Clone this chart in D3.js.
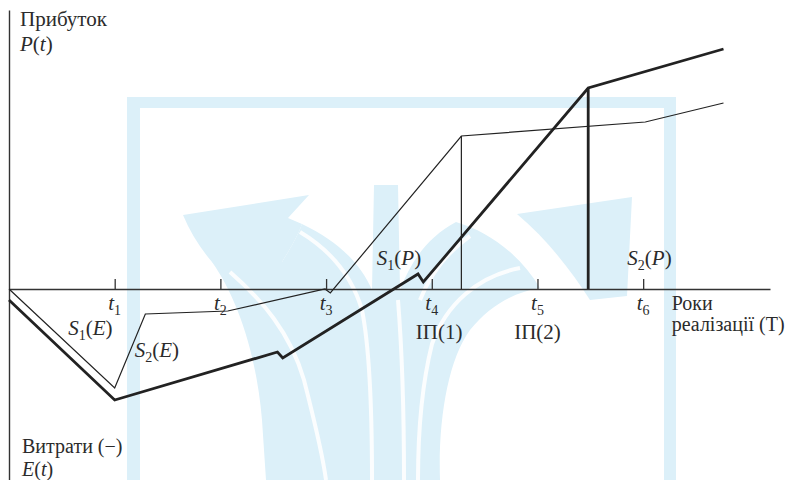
<!DOCTYPE html>
<html>
<head>
<meta charset="utf-8">
<script src="https://cdn.jsdelivr.net/npm/d3@7"></script>
<style>
  body { margin: 0; background: #fff; }
  text { font-family: "Liberation Serif", "DejaVu Serif", serif; fill: #2b2b2b; }
  .it { font-style: italic; }
</style>
</head>
<body>
<div id="chart"></div>
<script>

// Years on the horizontal axis (t1..t6)
const tickYears = [1, 2, 3, 4, 5, 6];
const tickSubs = ["1", "2", "3", "4", "5", "6"];

// Thin curve: first project
const thinT = [0, 1.0, 1.29, 2.07, 2.99, 3.04, 4.28, 6.02, 6.76];
const thinV = [0, -9.9, -2.5, -2.2, 0, -0.4, 15.3, 16.7, 18.6];

// Thick curve: second project
const thickT = [0, 1.0, 2.54, 2.59, 3.87, 3.92, 5.48, 6.76];
const thickV = [-1.1, -11.1, -6.3, -6.9, 1.5, 0.7, 20.1, 24.0];

// Payback points (drop lines to the axis)
const paybackT = [4.28, 5.48];
const paybackV = [15.3, 20.1];

// Texts
const curveNames = ["S", "S", "S", "S"];
const curveSubs = ["1", "2", "1", "2"];
const curveArgs = ["E", "E", "P", "P"];
const paybackLabels = ["ІП(1)", "ІП(2)"];
const axisTitleTop = ["Прибуток", "P(t)"];
const axisTitleBottom = ["Витрати (−)", "E(t)"];
const axisTitleRight = ["Роки", "реалізації (Т)"];


class ProfitChart {

  constructor(parentElement) {
    this.parentElement = parentElement;
    this.initVis();
  }

  initVis() {
    let vis = this;

    vis.margin = { top: 10, right: 33, bottom: 0, left: 9 };
    vis.width = 803 - vis.margin.left - vis.margin.right;
    vis.height = 480 - vis.margin.top - vis.margin.bottom;

    vis.root = d3.select("#" + vis.parentElement)
      .append("svg")
      .attr("width", 803)
      .attr("height", 480);

    vis.drawWatermark();

    vis.svg = vis.root.append("g")
      .attr("transform", "translate(" + vis.margin.left + "," + vis.margin.top + ")");

    vis.x = d3.scaleLinear()
      .domain([0, 7.2])
      .range([0, vis.width]);

    vis.y = d3.scaleLinear()
      .domain([-19.1, 27.9])
      .range([vis.height, 0]);

    vis.xAxis = d3.axisBottom(vis.x)
      .tickValues(tickYears)
      .tickSize(-10)
      .tickSizeOuter(0)
      .tickFormat("");

    vis.yAxis = d3.axisLeft(vis.y)
      .tickValues([])
      .tickSizeOuter(0);

    vis.updateVis();
  }

  // faint publisher logo behind the chart
  drawWatermark() {
    let vis = this;
    let blue = "#dcf0f9";
    let wm = vis.root.append("g").attr("stroke", "none");

    // frame
    wm.append("path")
      .attr("fill", blue)
      .attr("fill-rule", "evenodd")
      .attr("d", "M127,97 H676 V480 H127 Z M140,108 V480 H664 V108 Z");

    // left wing
    wm.append("path")
      .attr("fill", blue)
      .attr("d", "M183,215 L309,195 L288,218 L302,224 C296,240 288,252 282,262 " +
        "L262,270 C240,272 222,268 212,262 C200,248 190,232 183,215 Z");

    // right wing
    wm.append("path")
      .attr("fill", blue)
      .attr("d", "M517,214 L632,197 L627,296 L590,300 C572,272 548,240 517,214 Z");

    // body of the tulip
    wm.append("path")
      .attr("fill", blue)
      .attr("d", "M212,262 C236,296 256,350 262,420 L266,480 L440,480 C438,420 448,360 470,330 " +
        "C490,305 515,292 540,288 C520,255 490,232 456,222 C430,236 412,258 400,290 L398,185 " +
        "L374,185 L372,290 C360,262 336,240 302,224 C296,240 288,252 282,262 Z");

    // white grooves inside the body
    let grooves = [
      "M230,272 C262,300 290,332 304,380 C314,420 322,450 326,480",
      "M300,232 C330,250 352,276 362,310 C370,350 372,420 372,480",
      "M398,300 C402,350 404,420 404,480",
      "M520,268 C478,276 446,304 432,344 C422,384 418,430 418,480",
      "M470,236 C450,250 432,270 420,300"
    ];
    wm.selectAll(".groove")
      .data(grooves)
      .enter()
      .append("path")
      .attr("class", "groove")
      .attr("fill", "none")
      .attr("stroke", "#fbfdfe")
      .attr("stroke-width", 4)
      .attr("d", d => d);
  }

  updateVis() {
    let vis = this;

    // axes
    vis.svg.append("g")
      .attr("class", "x-axis")
      .attr("transform", "translate(0," + vis.y(0) + ")")
      .call(vis.xAxis)
      .call(g => g.selectAll("path, line").attr("stroke", "#333").attr("stroke-width", 1.3));

    vis.svg.append("g")
      .attr("class", "y-axis")
      .call(vis.yAxis)
      .call(g => g.selectAll("path").attr("stroke", "#333").attr("stroke-width", 1.4));

    // tick labels t1..t6
    let tl = vis.svg.selectAll(".tick-label")
      .data(tickYears)
      .enter()
      .append("text")
      .attr("class", "tick-label")
      .attr("x", d => vis.x(d))
      .attr("y", vis.y(0) + 21)
      .attr("text-anchor", "middle")
      .style("font-size", "21px");
    tl.append("tspan").attr("class", "it").text("t");
    tl.append("tspan").attr("dy", 5).style("font-size", "14px").text((d, i) => tickSubs[i]);

    // curves
    let line = d3.line()
      .x(d => vis.x(d[0]))
      .y(d => vis.y(d[1]));

    vis.svg.append("path")
      .datum(thinT.map((t, i) => [t, thinV[i]]))
      .attr("fill", "none")
      .attr("stroke", "#222")
      .attr("stroke-width", 1.2)
      .attr("d", line);

    vis.svg.append("path")
      .datum(thickT.map((t, i) => [t, thickV[i]]))
      .attr("fill", "none")
      .attr("stroke", "#222")
      .attr("stroke-width", 2.8)
      .attr("d", line);

    // drop lines at the payback points
    vis.svg.selectAll(".drop")
      .data(paybackT)
      .enter()
      .append("line")
      .attr("class", "drop")
      .attr("x1", d => vis.x(d))
      .attr("x2", d => vis.x(d))
      .attr("y1", (d, i) => vis.y(paybackV[i]))
      .attr("y2", vis.y(0))
      .attr("stroke", "#222")
      .attr("stroke-width", (d, i) => i === 0 ? 1.2 : 2.8);

    // curve labels S1(E), S2(E), S1(P), S2(P)
    let curvePos = [[0.56, -4.6], [1.19, -6.8], [3.48, 2.4], [5.85, 2.4]];
    curveNames.forEach((n, i) => {
      let t = vis.svg.append("text")
        .attr("x", vis.x(curvePos[i][0]))
        .attr("y", vis.y(curvePos[i][1]))
        .style("font-size", "21px");
      t.append("tspan").attr("class", "it").text(n);
      t.append("tspan").attr("dy", 5).style("font-size", "14px").text(curveSubs[i]);
      t.append("tspan").attr("dy", -5).text("(");
      t.append("tspan").attr("class", "it").text(curveArgs[i]);
      t.append("tspan").text(")");
    });

    // payback labels
    let payPos = [[4.07, -5.0], [5.0, -5.0]];
    vis.svg.selectAll(".pay-label")
      .data(paybackLabels)
      .enter()
      .append("text")
      .attr("class", "pay-label")
      .attr("x", (d, i) => vis.x(payPos[i][0]))
      .attr("y", (d, i) => vis.y(payPos[i][1]))
      .attr("text-anchor", "middle")
      .style("font-size", "21px")
      .text(d => d);

    // axis titles
    let top = vis.svg.append("text").attr("x", 11).attr("y", 16).style("font-size", "21px");
    top.append("tspan").attr("x", 11).text(axisTitleTop[0]);
    let pt = top.append("tspan").attr("x", 11).attr("dy", 25);
    pt.append("tspan").attr("class", "it").text("P");
    pt.append("tspan").text("(");
    pt.append("tspan").attr("class", "it").text("t");
    pt.append("tspan").text(")");

    let bot = vis.svg.append("text").attr("x", 13).attr("y", 443).style("font-size", "20px");
    bot.append("tspan").attr("x", 13).text(axisTitleBottom[0]);
    let et = bot.append("tspan").attr("x", 13).attr("dy", 23);
    et.append("tspan").attr("class", "it").text("E");
    et.append("tspan").text("(");
    et.append("tspan").attr("class", "it").text("t");
    et.append("tspan").text(")");

    let right = vis.svg.append("text")
      .attr("x", vis.x(6.27))
      .attr("y", vis.y(-2.1))
      .style("font-size", "20px");
    right.append("tspan").attr("x", vis.x(6.27)).text(axisTitleRight[0]);
    right.append("tspan").attr("x", vis.x(6.27)).attr("dy", 21).text(axisTitleRight[1]);
  }
}

new ProfitChart("chart");

</script>
</body>
</html>
